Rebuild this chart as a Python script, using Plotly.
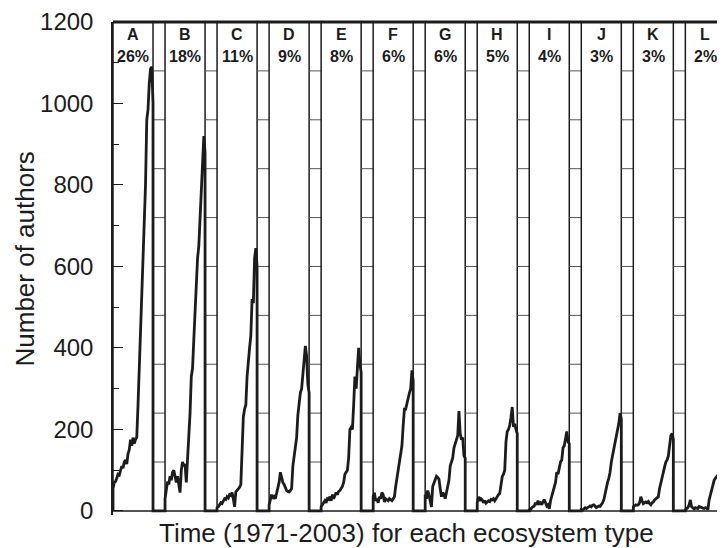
import plotly.graph_objects as go

# Number of authors per year, 1971-2003, one series per ecosystem type
years = list(range(1971, 2004))

panel_letters = ["A", "B", "C", "D", "E", "F", "G", "H", "I", "J", "K", "L"]
panel_shares = ["26%", "18%", "11%", "9%", "8%", "6%", "6%", "5%", "4%", "3%", "3%", "2%"]

authors_a = [55, 70, 72, 80, 90, 88, 100, 110, 105, 120, 125, 115, 140, 150, 175, 160, 180,
             165, 175, 180, 260, 350, 400, 520, 600, 690, 800, 960, 985, 1050, 1085, 1090, 1000]
authors_b = [30, 55, 72, 65, 85, 75, 95, 100, 80, 70, 85, 60, 45, 100, 120, 110, 115,
             70, 130, 170, 240, 330, 350, 420, 500, 540, 620, 650, 720, 770, 850, 920, 880]
authors_c = [8, 10, 15, 20, 18, 25, 30, 28, 35, 32, 40, 38, 45, 30, 10, 47, 50,
             55, 58, 65, 150, 230, 250, 260, 330, 380, 400, 430, 520, 510, 620, 645, 600]
authors_d = [15, 25, 40, 30, 35, 30, 45, 60, 70, 95, 80, 70, 65, 55, 50, 48, 47,
             50, 55, 110, 135, 160, 180, 235, 270, 290, 300, 340, 380, 405, 380, 310, 290]
authors_e = [10, 15, 20, 25, 20, 30, 28, 35, 25, 40, 30, 38, 45, 40, 48, 50, 55,
             60, 70, 90, 95, 100, 130, 200, 205, 200, 260, 330, 300, 350, 400, 360, 340]
authors_f = [35, 45, 25, 30, 20, 35, 30, 45, 40, 22, 30, 28, 25, 30, 28, 25, 30,
             35, 60, 80, 105, 115, 135, 160, 210, 250, 250, 265, 280, 290, 300, 345, 320]
authors_g = [40, 30, 50, 40, 25, 10, 60, 70, 80, 85, 82, 78, 55, 35, 45, 40, 30,
             45, 60, 75, 110, 120, 130, 155, 165, 175, 185, 245, 190, 175, 180, 135, 130]
authors_h = [20, 35, 25, 30, 27, 20, 25, 19, 22, 25, 23, 28, 27, 30, 25, 31, 35,
             40, 43, 70, 84, 90, 100, 170, 195, 200, 210, 230, 255, 206, 214, 200, 190]
authors_i = [5, 3, 8, 10, 12, 20, 15, 25, 18, 20, 15, 22, 28, 20, 12, 15, 5,
             25, 35, 45, 55, 70, 95, 90, 105, 120, 125, 155, 160, 175, 195, 170, 165]
authors_j = [3, 2, 5, 8, 6, 9, 10, 12, 10, 14, 15, 12, 8, 10, 12, 11, 15,
             20, 27, 43, 55, 70, 80, 95, 120, 135, 155, 170, 185, 195, 215, 240, 225]
authors_k = [10, 12, 15, 14, 15, 20, 35, 25, 18, 20, 22, 20, 23, 18, 15, 20, 22,
             27, 30, 32, 35, 55, 70, 76, 92, 108, 120, 125, 135, 170, 185, 190, 175]
authors_l = [3, 5, 8, 15, 27, 10, 7, 5, 8, 7, 6, 11, 9, 8, 7, 6, 8,
             7, 3, 27, 40, 45, 60, 75, 80, 84, 88, 92, 95, 100, 108, 105, 100]

series = [authors_a, authors_b, authors_c, authors_d, authors_e, authors_f,
          authors_g, authors_h, authors_i, authors_j, authors_k, authors_l]

y_ticks = [0, 200, 400, 600, 800, 1000, 1200]

INK = "#1c1c1c"
FONT = "Liberation Sans, Arial, Helvetica, sans-serif"

span = years[-1] - years[0]          # width of one panel in years
gap = 9.6                            # blank strip between panels, in the same units
step = span + gap
y_top = y_ticks[-1]


def panel_offset(i):
    return i * step


# one continuous trace: each panel's series, dropping to zero across the strips
xs, ys = [0], [0]
for i, values in enumerate(series):
    off = panel_offset(i)
    xs.append(off)
    ys.append(0)
    for yr, v in zip(years, values):
        xs.append(off + yr - years[0])
        ys.append(v)
    xs.append(off + span)
    ys.append(0)

fig = go.Figure()
fig.add_trace(go.Scatter(x=xs, y=ys, mode="lines",
                         line=dict(color=INK, width=2.8), hoverinfo="skip"))

shapes = []
annotations = []
for i, (letter, share) in enumerate(zip(panel_letters, panel_shares)):
    off = panel_offset(i)
    shapes.append(dict(type="rect", xref="x", yref="y", x0=off, x1=off + span, y0=0, y1=y_top,
                       line=dict(color=INK, width=1.5), layer="below"))
    if i < len(series) - 1:
        nxt = panel_offset(i + 1)
        for k in range(1, 10):
            shapes.append(dict(type="line", xref="x", yref="y", x0=off + span, x1=nxt,
                               y0=y_top * k / 10, y1=y_top * k / 10,
                               line=dict(color="#555", width=1), layer="below"))
    annotations.append(dict(x=off + span / 2, y=1170, xref="x", yref="y", text=f"<b>{letter}</b>",
                            showarrow=False, font=dict(size=16, color=INK, family=FONT)))
    annotations.append(dict(x=off + span / 2, y=1115, xref="x", yref="y", text=f"<b>{share}</b>",
                            showarrow=False, font=dict(size=16, color=INK, family=FONT)))

shapes.append(dict(type="line", xref="paper", yref="paper", x0=0, x1=1, y0=1, y1=1,
                   line=dict(color=INK, width=3)))

annotations.append(dict(x=-0.144, y=0.52, xref="paper", yref="paper", text="Number of authors",
                        textangle=-90, showarrow=False, xanchor="center", yanchor="middle",
                        font=dict(size=26, color=INK, family=FONT)))
annotations.append(dict(x=0.479, y=-0.036, xref="paper", yref="paper",
                        text="Time (1971-2003) for each ecosystem type",
                        showarrow=False, xanchor="center", yanchor="middle",
                        font=dict(size=26, color=INK, family=FONT)))

# the page body keeps an 8px margin, so the figure is 8px smaller and everything is shifted up-left
fig.update_layout(
    width=717, height=540,
    margin=dict(l=105, r=0, t=12, b=33),
    paper_bgcolor="white", plot_bgcolor="white",
    showlegend=False,
    shapes=shapes,
    annotations=annotations,
    font=dict(family=FONT, color=INK),
)
fig.update_xaxes(range=[0, panel_offset(len(series) - 1) + span - 0.3],
                 showgrid=False, zeroline=False, showticklabels=False, ticks="", showline=False)
fig.update_yaxes(range=[-10, y_top], tickvals=y_ticks, ticks="inside", ticklen=10, tickwidth=1.2,
                 tickcolor=INK, showgrid=False, zeroline=False,
                 showline=True, linecolor=INK, linewidth=1.5,
                 ticklabelstandoff=13, ticklabeloverflow="allow",
                 tickfont=dict(size=24, color=INK, family=FONT),
                 minor=dict(dtick=100, ticks="inside", ticklen=6, tickwidth=1, tickcolor=INK))

fig.write_html("out.html")
